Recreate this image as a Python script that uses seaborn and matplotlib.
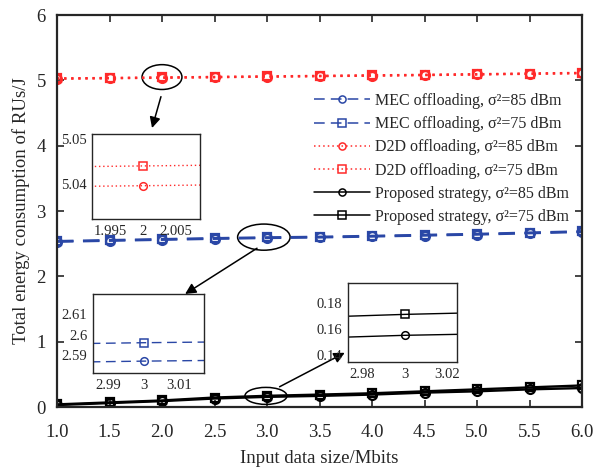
import numpy as np
import pandas as pd
import seaborn as sns
import matplotlib.pyplot as plt
from matplotlib.patches import Ellipse

# data
data_size = [1.0, 1.5, 2.0, 2.5, 3.0, 3.5, 4.0, 4.5, 5.0, 5.5, 6.0]
mec_85 = [2.530, 2.545, 2.560, 2.575, 2.587, 2.596, 2.610, 2.625, 2.640, 2.660, 2.680]
mec_75 = [2.539, 2.554, 2.569, 2.584, 2.596, 2.605, 2.619, 2.634, 2.649, 2.669, 2.689]
d2d_85 = [5.025, 5.032, 5.0396, 5.048, 5.056, 5.064, 5.072, 5.080, 5.090, 5.100, 5.110]
d2d_75 = [5.029, 5.036, 5.0440, 5.052, 5.060, 5.068, 5.076, 5.084, 5.094, 5.104, 5.114]
prop_85 = [0.030, 0.060, 0.090, 0.130, 0.155, 0.170, 0.190, 0.220, 0.240, 0.270, 0.290]
prop_75 = [0.040, 0.070, 0.100, 0.145, 0.171, 0.190, 0.210, 0.240, 0.270, 0.300, 0.330]

labels = ["MEC offloading, σ²=85 dBm", "MEC offloading, σ²=75 dBm",
          "D2D offloading, σ²=85 dBm", "D2D offloading, σ²=75 dBm",
          "Proposed strategy, σ²=85 dBm", "Proposed strategy, σ²=75 dBm"]

blue = "#2a47a6"
red = "#ff2a2a"
black = "#000000"
dash = (0, (7, 4))
dot = (0, (1, 2))

series = [
    (mec_85, labels[0], blue, dash, "o"),
    (mec_75, labels[1], blue, dash, "s"),
    (d2d_85, labels[2], red, dot, "o"),
    (d2d_75, labels[3], red, dot, "s"),
    (prop_85, labels[4], black, "-", "o"),
    (prop_75, labels[5], black, "-", "s"),
]

sns.set_style("ticks")
plt.rcParams["font.family"] = ["Liberation Serif", "DejaVu Serif"]

fig = plt.figure(figsize=(5.98, 4.68), dpi=100)
W, H = 598, 468
ax = fig.add_axes([57 / W, 1 - 407 / H, 525 / W, 392 / H])


def draw(a, ms, lw, mew, with_label):
    for vals, lab, col, ls, mk in series:
        df = pd.DataFrame({"x": data_size, "y": vals})
        sns.lineplot(data=df, x="x", y="y", ax=a, color=col, linestyle=ls,
                     linewidth=lw, marker=mk, markersize=ms,
                     markerfacecolor="none", markeredgecolor=col,
                     markeredgewidth=mew, label=lab if with_label else None,
                     legend=False)


draw(ax, 6.4, 1.7, 1.6, True)
ax.set_xlim(1.0, 6.0)
ax.set_ylim(0, 6)
ax.set_xticks(data_size)
ax.set_xticklabels([f"{v:.1f}" for v in data_size])
ax.set_yticks(range(0, 7))
ax.tick_params(direction="in", top=True, right=True, length=5, width=1.2,
               labelsize=13.5)
ax.tick_params(axis="x", pad=12)
ax.tick_params(axis="y", pad=8)
for s in ax.spines.values():
    s.set_linewidth(1.6)
ax.set_xlabel("Input data size/Mbits", fontsize=13.5, labelpad=7)
ax.set_ylabel("Total energy consumption of RUs/J", fontsize=13.5, labelpad=5)

leg = ax.legend(loc="upper left", bbox_to_anchor=(314 / W, 1 - 93 / H),
                bbox_transform=fig.transFigure, frameon=False, fontsize=11.5,
                handlelength=3.5, handletextpad=0.3, labelspacing=0.45,
                borderpad=0, borderaxespad=0, markerscale=0.8)
for h in leg.get_lines():
    h.set_linewidth(1.1)
    h.set_markeredgewidth(1.1)

# zoom ellipses
ax.add_patch(Ellipse((2.0, 5.05), 0.38, 0.38, fill=False, lw=1.1, color=black))
ax.add_patch(Ellipse((2.97, 2.6), 0.5, 0.4, fill=False, lw=1.1, color=black))
ax.add_patch(Ellipse((2.99, 0.17), 0.4, 0.26, fill=False, lw=1.1, color=black))

arrow = dict(arrowstyle="-|>", mutation_scale=16, lw=1.1, color=black,
             shrinkA=0, shrinkB=0)
ax.annotate("", xy=(1.905, 4.27), xytext=(1.99, 4.75), arrowprops=arrow)
ax.annotate("", xy=(2.22, 1.73), xytext=(2.905, 2.43), arrowprops=arrow)
ax.annotate("", xy=(3.74, 0.83), xytext=(3.12, 0.31), arrowprops=arrow)


def inset(px0, py0, px1, py1, xlim, ylim, xt, xtl, yt, ytl):
    a = fig.add_axes([px0 / W, 1 - py1 / H, (px1 - px0) / W, (py1 - py0) / H])
    draw(a, 5.5, 1.0, 1.1, False)
    a.set_xlim(*xlim)
    a.set_ylim(*ylim)
    a.set_xticks(xt)
    a.set_xticklabels(xtl)
    a.set_yticks(yt)
    a.set_yticklabels(ytl)
    a.set_xlabel("")
    a.set_ylabel("")
    a.tick_params(direction="in", length=0, labelsize=10.5, pad=4)
    for s in a.spines.values():
        s.set_linewidth(1.0)
    return a


inset(92, 134, 200, 219, (1.9921, 2.0088), (5.0322, 5.0511),
      [1.995, 2.0, 2.005], ["1.995", "2", "2.005"],
      [5.04, 5.05], ["5.04", "5.05"])
inset(93, 294, 204, 373, (2.9857, 3.0171), (2.5812, 2.6198),
      [2.99, 3.0, 3.01], ["2.99", "3", "3.01"],
      [2.59, 2.60, 2.61], ["2.59", "2.6", "2.61"])
inset(348, 283, 457, 362, (2.9733, 3.0248), (0.1346, 0.195),
      [2.98, 3.0, 3.02], ["2.98", "3", "3.02"],
      [0.14, 0.16, 0.18], ["0.14", "0.16", "0.18"])

fig.savefig("out.png", dpi=100)
